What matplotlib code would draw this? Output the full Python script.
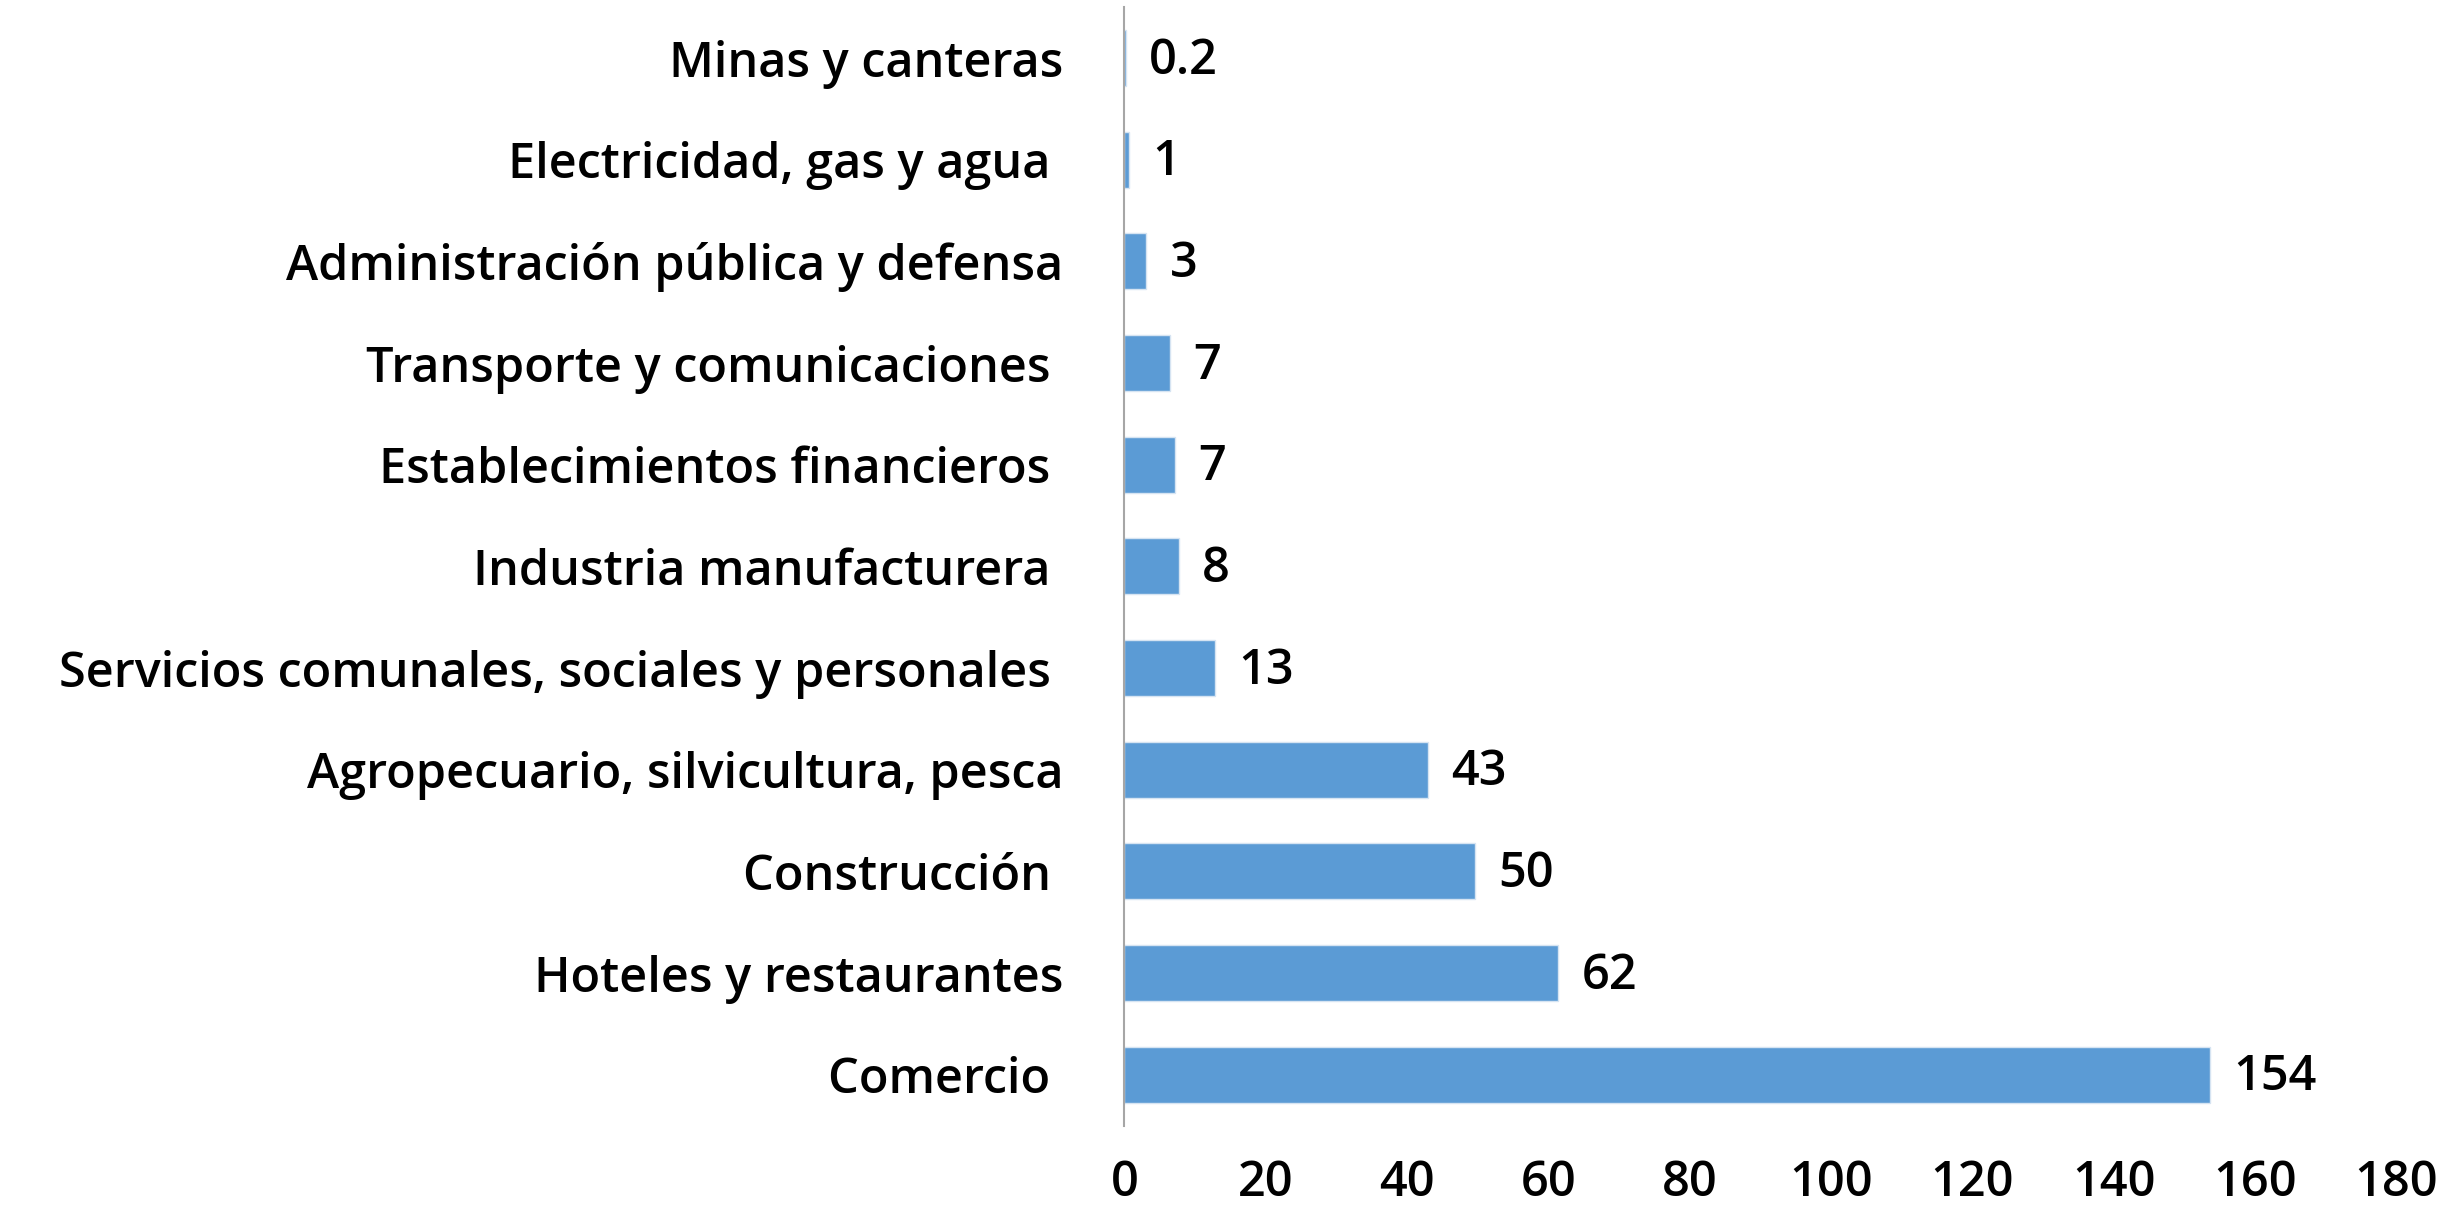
import matplotlib.pyplot as plt

# sectors, top to bottom as in the chart
sectors = ['Minas y canteras', 'Electricidad, gas y agua ', 'Administración pública y defensa',
           'Transporte y comunicaciones ', 'Establecimientos financieros ', 'Industria manufacturera ',
           'Servicios comunales, sociales y personales ', 'Agropecuario, silvicultura, pesca',
           'Construcción ', 'Hoteles y restaurantes', 'Comercio ']
values = [0.2, 0.6, 3.1, 6.4, 7.1, 7.7, 12.8, 42.9, 49.6, 61.4, 153.6]
value_labels = ['0.2', '1', '3', '7', '7', '8', '13', '43', '50', '62', '154']
xticks = [0, 20, 40, 60, 80, 100, 120, 140, 160, 180]

plt.rcParams['font.family'] = ['Open Sans', 'DejaVu Sans']
FS = 35
FW = 'semibold'

fig = plt.figure(figsize=(24.63, 12.09), dpi=100)
ax = fig.add_axes([0.4565, 0.069, 0.5165, 0.925])

ypos = list(range(len(sectors)))
ax.barh(ypos, values, height=0.55, color='#5B9BD5', edgecolor='#D6E4F2', linewidth=1)
for y, v, lab in zip(ypos, values, value_labels):
    ax.text(v + 3.3, y + 0.03, lab, va='center', ha='left', fontsize=FS, fontweight=FW)

ax.set_yticks(ypos)
ax.set_yticklabels(sectors, fontsize=FS, fontweight=FW)
ax.set_ylim(len(sectors) - 0.5, -0.5)
ax.set_xlim(0, 180)
ax.set_xticks(xticks)
ax.set_xticklabels([str(t) for t in xticks], fontsize=FS, fontweight=FW)

for s in ['top', 'right', 'bottom']:
    ax.spines[s].set_visible(False)
ax.spines['left'].set_color('#A6A6A6')
ax.spines['left'].set_linewidth(1.5)
ax.tick_params(axis='both', length=0)
ax.tick_params(axis='x', pad=24)
ax.tick_params(axis='y', pad=44)

fig.savefig('out.png', dpi=100)
